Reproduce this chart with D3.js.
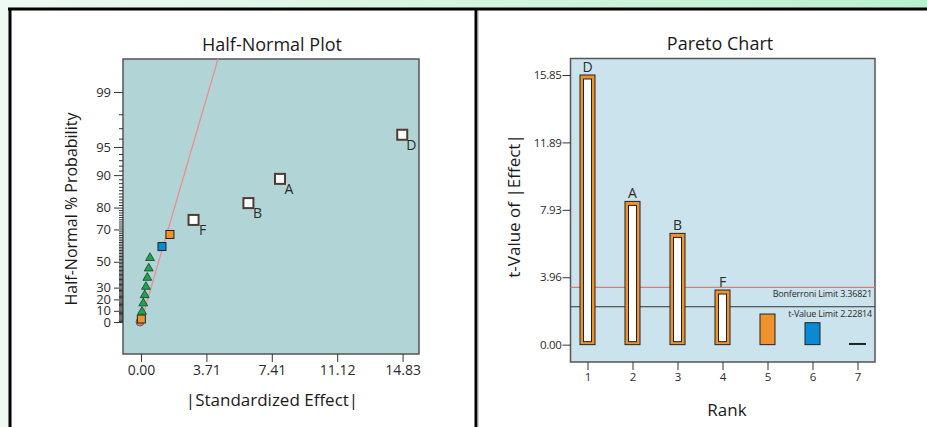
<html>
<head>
  <script src="https://d3js.org/d3.v7.min.js"></script>
  <style>
    body { margin: 0; }
  </style>
</head>
<body>
<script>

// half-normal plot: |standardized effect| and half-normal % probability per point
let hnEffect = [14.81, 7.88, 6.09, 2.98, 1.64, 1.19, 0.51, 0.44, 0.36, 0.28, 0.21, 0.13, 0.06, 0.02, 0.00];
let hnProb = [96.4, 89.1, 81.7, 74.7, 67.3, 60.2, 52.7, 45.2, 38.0, 30.7, 23.7, 16.6, 9.2, 2.7, 0];
let hnKind = ["big", "big", "big", "big", "orange", "blue", "tri", "tri", "tri", "tri", "tri", "tri", "tri", "orange", "circle"];
let hnNames = ["D", "A", "B", "F", "", "", "", "", "", "", "", "", "", "", ""];
let hnLineEffect = [0, 4.37];
let hnLineProb = [0, 99.68];
let hnXTicks = [0, 3.7075, 7.415, 11.1225, 14.83];
let hnXTickLabels = ["0.00", "3.71", "7.41", "11.12", "14.83"];
let hnYTicks = [0, 10, 20, 30, 50, 70, 80, 90, 95, 99];

// pareto chart
let ranks = ["1", "2", "3", "4", "5", "6", "7"];
let tValues = [15.85, 8.42, 6.54, 3.21, 1.80, 1.29, 0.04];
let barNames = ["D", "A", "B", "F", "", "", ""];
let barKind = ["hollow", "hollow", "hollow", "hollow", "orange", "blue", "line"];
let paretoYTicks = [0, 3.9625, 7.925, 11.8875, 15.85];
let paretoYTickLabels = ["0.00", "3.96", "7.93", "11.89", "15.85"];
let bonferroniLimit = 3.36821;
let tValueLimit = 2.22814;

init();

function probit(p) {
  let a = [-3.969683028665376e+01, 2.209460984245205e+02, -2.759285104469687e+02, 1.383577518672690e+02, -3.066479806614716e+01, 2.506628277459239e+00];
  let b = [-5.447609879822406e+01, 1.615858368580409e+02, -1.556989798598866e+02, 6.680131188771972e+01, -1.328068155288572e+01];
  let c = [-7.784894002430293e-03, -3.223964580411365e-01, -2.400758277161838e+00, -2.549732539343734e+00, 4.374664141464968e+00, 2.938163982698783e+00];
  let d = [7.784695709041462e-03, 3.224671290700398e-01, 2.445134137142996e+00, 3.754408661907416e+00];
  let plow = 0.02425;
  let q, r;
  if (p < plow) {
    q = Math.sqrt(-2 * Math.log(p));
    return (((((c[0]*q+c[1])*q+c[2])*q+c[3])*q+c[4])*q+c[5]) / ((((d[0]*q+d[1])*q+d[2])*q+d[3])*q+1);
  }
  if (p <= 1 - plow) {
    q = p - 0.5; r = q * q;
    return (((((a[0]*r+a[1])*r+a[2])*r+a[3])*r+a[4])*r+a[5])*q / (((((b[0]*r+b[1])*r+b[2])*r+b[3])*r+b[4])*r+1);
  }
  q = Math.sqrt(-2 * Math.log(1 - p));
  return -(((((c[0]*q+c[1])*q+c[2])*q+c[3])*q+c[4])*q+c[5]) / ((((d[0]*q+d[1])*q+d[2])*q+d[3])*q+1);
}

// percent -> half-normal quantile
function hz(p) { return probit(0.5 + p / 200); }

function init() {

  let canvasW = 927;
  let canvasH = 427;
  let font = "'Open Sans', sans-serif";
  let ink = "#2b2b2b";

  let svg = d3.select("body").append("svg")
    .attr("width", canvasW)
    .attr("height", canvasH);

  let grad = svg.append("defs").append("linearGradient")
    .attr("id", "bg").attr("x1", 0).attr("x2", 1).attr("y1", 0).attr("y2", 0);
  grad.append("stop").attr("offset", 0).attr("stop-color", "#eef9f3");
  grad.append("stop").attr("offset", 1).attr("stop-color", "#b9f1cd");

  svg.append("rect").attr("width", canvasW).attr("height", canvasH).attr("fill", "url(#bg)");
  svg.append("rect").attr("x", 10).attr("y", 9).attr("width", canvasW - 10).attr("height", canvasH - 9).attr("fill", "white");

  // frame lines
  svg.append("line").attr("x1", 8).attr("x2", canvasW).attr("y1", 9).attr("y2", 9).attr("stroke", "black").attr("stroke-width", 3);
  svg.append("line").attr("x1", 10).attr("x2", 10).attr("y1", 8).attr("y2", canvasH).attr("stroke", "black").attr("stroke-width", 3);
  svg.append("line").attr("x1", 476).attr("x2", 476).attr("y1", 8).attr("y2", canvasH).attr("stroke", "black").attr("stroke-width", 3);
  svg.append("line").attr("x1", 478).attr("x2", 478).attr("y1", 11).attr("y2", canvasH).attr("stroke", "#aaa").attr("stroke-width", 1);

  // ---------------- Half-Normal Plot ----------------
  let hnL = 123, hnR = 419, hnT = 59, hnB = 354;

  let x1 = d3.scaleLinear().domain([-1.02, 15.76]).range([hnL, hnR]);
  let yz = d3.scaleLinear().domain([-0.358, 2.945]).range([hnB, hnT]);

  svg.append("rect")
    .attr("x", hnL).attr("y", hnT).attr("width", hnR - hnL).attr("height", hnB - hnT)
    .attr("fill", "#b1d4d6").attr("stroke", "#555").attr("stroke-width", 1.5);

  svg.append("clipPath").attr("id", "hnclip").append("rect")
    .attr("x", hnL).attr("y", hnT).attr("width", hnR - hnL).attr("height", hnB - hnT);

  let minorProbs = d3.range(1, 99).filter(p => hnYTicks.indexOf(p) < 0);

  svg.append("g")
    .attr("transform", "translate(" + hnL + ",0)")
    .call(d3.axisLeft(yz).tickValues(minorProbs.map(hz)).tickSize(4).tickFormat(""))
    .call(g => g.select(".domain").remove())
    .selectAll("line").attr("stroke", "#333");

  let hnYAxis = svg.append("g")
    .attr("transform", "translate(" + hnL + ",0)")
    .call(d3.axisLeft(yz).tickValues(hnYTicks.map(hz)).tickSize(9).tickPadding(3)
      .tickFormat((d, i) => hnYTicks[i]));
  hnYAxis.select(".domain").remove();
  hnYAxis.selectAll("line").attr("stroke", "#333");
  hnYAxis.selectAll("text").attr("font-family", font).attr("font-size", "13px").attr("fill", ink);

  let hnXAxis = svg.append("g")
    .attr("transform", "translate(0," + hnB + ")")
    .call(d3.axisBottom(x1).tickValues(hnXTicks).tickSize(8).tickPadding(3).tickFormat((d, i) => hnXTickLabels[i]));
  hnXAxis.select(".domain").remove();
  hnXAxis.selectAll("line").attr("stroke", "#333");
  hnXAxis.selectAll("text").attr("font-family", font).attr("font-size", "14px").attr("fill", ink);

  let fit = d3.line()
    .x((d, i) => x1(hnLineEffect[i]))
    .y((d, i) => yz(hz(hnLineProb[i])));

  svg.append("path")
    .datum(hnLineEffect)
    .attr("d", fit)
    .attr("clip-path", "url(#hnclip)")
    .attr("fill", "none")
    .attr("stroke", "#f08a8a")
    .attr("stroke-width", 1.2);

  let pts = svg.selectAll()
    .data(d3.range(hnEffect.length).reverse())
    .enter()
    .append("g")
    .attr("transform", i => "translate(" + x1(hnEffect[i]) + "," + yz(hz(hnProb[i])) + ")");

  pts.filter(i => hnKind[i] == "big").append("rect")
    .attr("x", -5).attr("y", -5).attr("width", 10).attr("height", 10)
    .attr("fill", "white").attr("stroke", "#4f3c30").attr("stroke-width", 2);

  pts.filter(i => hnKind[i] == "orange" || hnKind[i] == "blue").append("rect")
    .attr("x", -4).attr("y", -4).attr("width", 8).attr("height", 8)
    .attr("fill", i => hnKind[i] == "orange" ? "#f0922c" : "#0a8ad4")
    .attr("stroke", "#222").attr("stroke-width", 1);

  pts.filter(i => hnKind[i] == "tri").append("path")
    .attr("d", d3.symbol(d3.symbolTriangle).size(34))
    .attr("fill", "#1ba54e").attr("stroke", "#1f3a28").attr("stroke-width", 0.8);

  pts.filter(i => hnKind[i] == "circle").append("circle")
    .attr("cx", -1).attr("r", 4)
    .attr("fill", "#c98682").attr("stroke", "#6e4644").attr("stroke-width", 0.8);

  pts.filter(i => hnNames[i] != "").append("text")
    .attr("x", 9).attr("y", 15)
    .attr("text-anchor", "middle")
    .attr("font-family", font).attr("font-size", "14px").attr("fill", ink)
    .text(i => hnNames[i]);

  svg.append("text")
    .attr("x", 272).attr("y", 51)
    .attr("text-anchor", "middle")
    .attr("font-family", font).attr("font-size", "18px").attr("fill", "#1a1a1a")
    .text("Half-Normal Plot");

  svg.append("text")
    .attr("transform", "translate(77,209) rotate(-90)")
    .attr("text-anchor", "middle")
    .attr("font-family", font).attr("font-size", "16px").attr("fill", "#1a1a1a")
    .text("Half-Normal % Probability");

  svg.append("text")
    .attr("x", 272).attr("y", 406)
    .attr("text-anchor", "middle")
    .attr("font-family", font).attr("font-size", "17px").attr("fill", "#1a1a1a")
    .text("|Standardized Effect|");

  // ---------------- Pareto Chart ----------------
  let pL = 570.5, pR = 875, pT = 58.5, pB = 362;

  let x2 = d3.scalePoint().domain(ranks).range([587.5, 857.5]);
  let y2 = d3.scaleLinear().domain([-1.02, 16.82]).range([pB, pT]);

  svg.append("rect")
    .attr("x", pL).attr("y", pT).attr("width", pR - pL).attr("height", pB - pT)
    .attr("fill", "#cbe3ec").attr("stroke", "#555").attr("stroke-width", 1.5);

  let pYAxis = svg.append("g")
    .attr("transform", "translate(" + pL + ",0)")
    .call(d3.axisLeft(y2).tickValues(paretoYTicks).tickSize(8).tickPadding(1).tickFormat((d, i) => paretoYTickLabels[i]));
  pYAxis.select(".domain").remove();
  pYAxis.selectAll("line").attr("stroke", "#333");
  pYAxis.selectAll("text").attr("font-family", font).attr("font-size", "11.5px").attr("letter-spacing", "-0.3px").attr("fill", ink);

  let pXAxis = svg.append("g")
    .attr("transform", "translate(0," + pB + ")")
    .call(d3.axisBottom(x2).tickSize(8).tickPadding(3));
  pXAxis.select(".domain").remove();
  pXAxis.selectAll("line").attr("stroke", "#333");
  pXAxis.selectAll("text").attr("font-family", font).attr("font-size", "11.5px").attr("fill", ink);

  // limit lines
  svg.append("line")
    .attr("x1", pL).attr("x2", pR).attr("y1", y2(bonferroniLimit)).attr("y2", y2(bonferroniLimit))
    .attr("stroke", "#e07a7a").attr("stroke-width", 1.2);
  svg.append("line")
    .attr("x1", pL).attr("x2", pR).attr("y1", y2(tValueLimit)).attr("y2", y2(tValueLimit))
    .attr("stroke", "#333").attr("stroke-width", 1.2);

  svg.append("text")
    .attr("x", pR - 3).attr("y", y2(bonferroniLimit) + 10)
    .attr("text-anchor", "end")
    .attr("font-family", font).attr("font-size", "9px").attr("letter-spacing", "-0.2px").attr("fill", ink)
    .text("Bonferroni Limit " + bonferroniLimit);
  svg.append("text")
    .attr("x", pR - 3).attr("y", y2(tValueLimit) + 10)
    .attr("text-anchor", "end")
    .attr("font-family", font).attr("font-size", "9px").attr("letter-spacing", "-0.2px").attr("fill", ink)
    .text("t-Value Limit " + tValueLimit);

  let bw = 15;
  let bars = svg.selectAll()
    .data(d3.range(ranks.length))
    .enter()
    .append("g");

  bars.filter(i => barKind[i] != "line").append("rect")
    .attr("x", i => x2(ranks[i]) - bw / 2)
    .attr("y", i => y2(tValues[i]))
    .attr("width", bw)
    .attr("height", i => y2(0) - y2(tValues[i]))
    .attr("fill", i => barKind[i] == "blue" ? "#0a8ad4" : "#f0922c")
    .attr("stroke", "#222").attr("stroke-width", 1);

  bars.filter(i => barKind[i] == "hollow").append("rect")
    .attr("x", i => x2(ranks[i]) - bw / 2 + 3.5)
    .attr("y", i => y2(tValues[i]) + 4)
    .attr("width", bw - 7)
    .attr("height", i => y2(0) - y2(tValues[i]) - 7)
    .attr("fill", "white")
    .attr("stroke", "#222").attr("stroke-width", 1);

  bars.filter(i => barKind[i] == "line").append("line")
    .attr("x1", i => x2(ranks[i]) - bw / 2 - 1)
    .attr("x2", i => x2(ranks[i]) + bw / 2 + 1)
    .attr("y1", i => y2(tValues[i]))
    .attr("y2", i => y2(tValues[i]))
    .attr("stroke", "#222").attr("stroke-width", 2);

  bars.filter(i => barNames[i] != "").append("text")
    .attr("x", i => x2(ranks[i]))
    .attr("y", i => y2(tValues[i]) - 3)
    .attr("text-anchor", "middle")
    .attr("font-family", font).attr("font-size", "14px").attr("fill", ink)
    .text(i => barNames[i]);

  svg.append("text")
    .attr("x", 720).attr("y", 50)
    .attr("text-anchor", "middle")
    .attr("font-family", font).attr("font-size", "18px").attr("fill", "#1a1a1a")
    .text("Pareto Chart");

  svg.append("text")
    .attr("transform", "translate(520,206) rotate(-90)")
    .attr("text-anchor", "middle")
    .attr("font-family", font).attr("font-size", "17px").attr("fill", "#1a1a1a")
    .text("t-Value of |Effect|");

  svg.append("text")
    .attr("x", 727).attr("y", 416)
    .attr("text-anchor", "middle")
    .attr("font-family", font).attr("font-size", "17px").attr("fill", "#1a1a1a")
    .text("Rank");
}

</script>
</body>
</html>
